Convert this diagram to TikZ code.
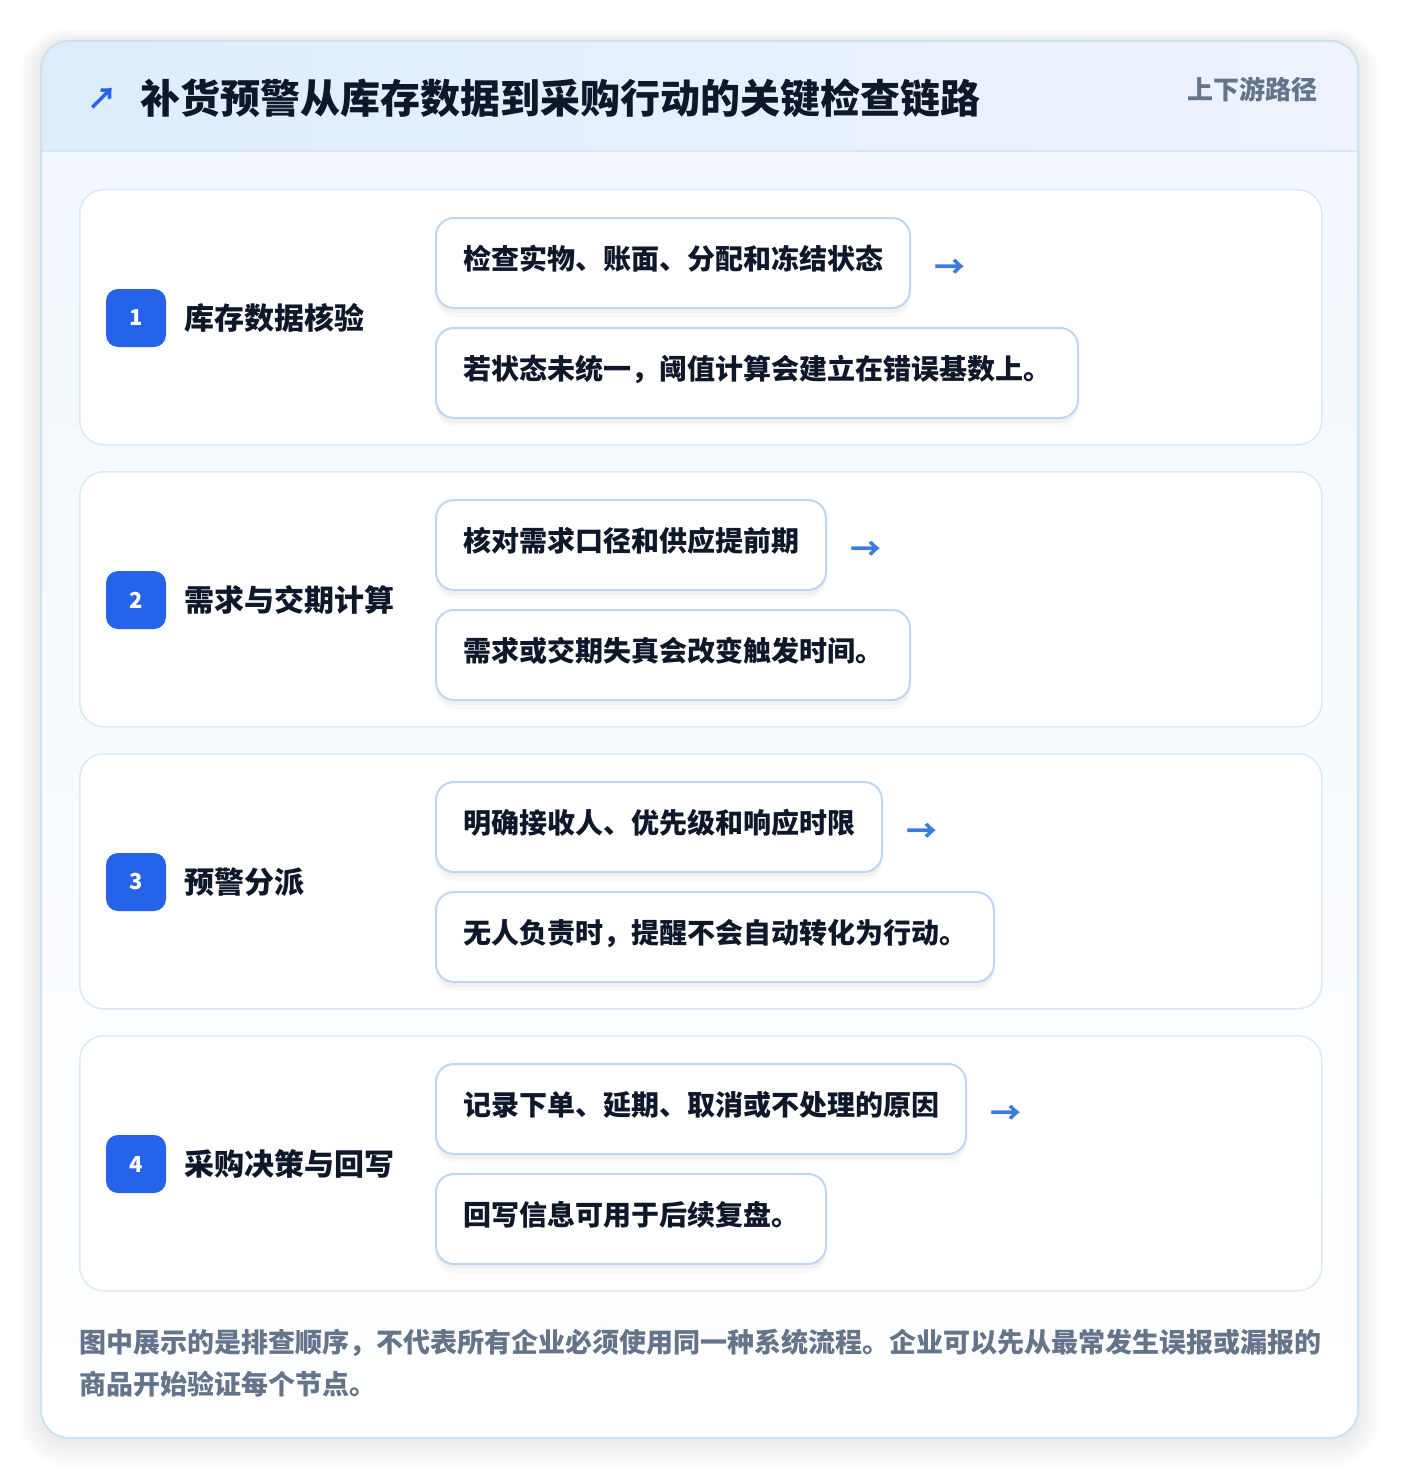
\documentclass[tikz,border=0pt]{standalone}
\usepackage{fontspec}
\setmainfont{Noto Sans CJK SC}
\usetikzlibrary{positioning}

\definecolor{panelline}{HTML}{C9E3F6}
\definecolor{headleft}{HTML}{DDEDFC}
\definecolor{headright}{HTML}{EEF3FD}
\definecolor{headrule}{HTML}{D5E6F8}
\definecolor{bodytop}{HTML}{F2F8FE}
\definecolor{cardline}{HTML}{DAE8F8}
\definecolor{chipline}{HTML}{BFD6F3}
\definecolor{badgeblue}{HTML}{2563EB}
\definecolor{inkdark}{HTML}{0F172A}
\definecolor{inkgrey}{HTML}{64748B}
\definecolor{arrowblue}{HTML}{3B7BE0}

\tikzset{
  card/.style={draw=cardline, line width=1.5pt, fill=white, rounded corners=24pt,
    anchor=north west, minimum width=1242pt, minimum height=255pt, inner sep=0pt},
  badge/.style={fill=badgeblue, rounded corners=12pt, minimum width=60pt, minimum height=58pt,
    inner sep=0pt, text=white, font=\bfseries\fontsize{22}{22}\selectfont},
  steplabel/.style={anchor=west, inner sep=0pt, text=inkdark, font=\bfseries\fontsize{30}{30}\selectfont},
  chip/.style={draw=chipline, line width=2pt, fill=white, rounded corners=18pt, anchor=north west,
    minimum height=90pt, inner xsep=27pt, inner ysep=0pt, text height=1.2em, text depth=0pt,
    text=inkdark, font=\bfseries\fontsize{28}{28}\selectfont,
    preaction={fill=black, opacity=0.025, transform canvas={yshift=-9pt}},
    preaction={fill=black, opacity=0.03, transform canvas={yshift=-5pt}}},
  nextmark/.style={inner sep=0pt, text=arrowblue, yshift=-6pt, font=\bfseries\fontsize{31}{31}\selectfont},
}

\begin{document}
\begin{tikzpicture}[x=1pt,y=-1pt]
    \useasboundingbox (0,0) rectangle (1400,1482);
    \fill[white] (0,0) rectangle (1400,1482);

    % soft shadow round the panel
    \foreach \k in {1,...,10}
        \fill[black, opacity=0.007, rounded corners=28pt+\k*2pt]
          (41-\k*2.2,41-\k*1.2) rectangle (1358+\k*2.2,1438+\k*3);

    % outer panel
    \fill[white, rounded corners=28pt] (41,41) rectangle (1358,1438);
    \begin{scope}
        \clip[rounded corners=28pt] (41,41) rectangle (1358,1438);
        \shade[left color=headleft, right color=headright] (41,41) rectangle (1358,151);
        \shade[top color=bodytop, bottom color=white] (41,151) rectangle (1358,1438);
        \draw[headrule, line width=1.5pt] (41,151) -- (1358,151);
    \end{scope}
    \draw[panelline, line width=2pt, rounded corners=28pt] (41,41) rectangle (1358,1438);

    % Header
    \node[inner sep=0pt, text=badgeblue, font=\bfseries\fontsize{30}{30}\selectfont] (icon) at (102,99) {↗};
    \node[anchor=west, inner sep=0pt, text=inkdark, font=\bfseries\fontsize{40}{40}\selectfont]
      (title) at (140,98) {补货预警从库存数据到采购行动的关键检查链路};
    \node[anchor=east, inner sep=0pt, text=inkgrey, font=\bfseries\fontsize{26}{26}\selectfont]
      (tag) at (1318,89) {上下游路径};

    % Step cards
    \foreach \ty/\num/\label/\first/\second in {
        189/1/库存数据核验/检查实物、账面、分配和冻结状态/若状态未统一，阈值计算会建立在错误基数上。,
        471/2/需求与交期计算/核对需求口径和供应提前期/需求或交期失真会改变触发时间。,
        753/3/预警分派/明确接收人、优先级和响应时限/无人负责时，提醒不会自动转化为行动。,
        1035/4/采购决策与回写/记录下单、延期、取消或不处理的原因/回写信息可用于后续复盘。}{
        \node[card] (card\num) at (79,\ty) {};
        \node[badge] (badge\num) at (136,\ty+129) {\num};
        \node[steplabel] (label\num) at (184,\ty+129) {\label};
        \node[chip] (chipa\num) at (435,\ty+28) {\first};
        \node[chip] (chipb\num) at (435,\ty+138) {\second};
        \node[nextmark, right=23pt of chipa\num] (next\num) {→};
    }

    % Footer note
    \node[anchor=north west, inner sep=0pt, align=left, text=inkgrey,
      font=\bfseries\fontsize{27}{42}\selectfont] (note) at (79,1329)
      {图中展示的是排查顺序，不代表所有企业必须使用同一种系统流程。企业可以先从最常发生误报或漏报的\\商品开始验证每个节点。};
\end{tikzpicture}
\end{document}
